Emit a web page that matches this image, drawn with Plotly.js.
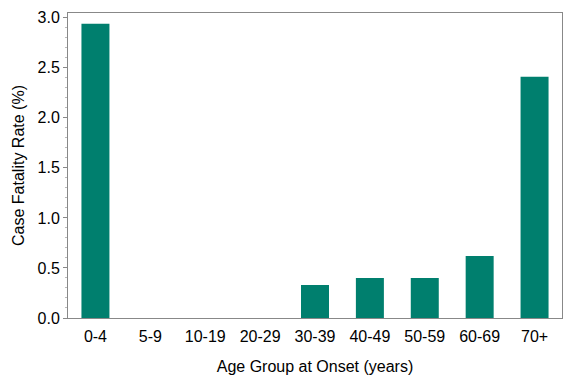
<!DOCTYPE html>
<html><head><meta charset="utf-8">
<script src="https://cdn.plot.ly/plotly-3.0.1.min.js"></script>
<style>html,body{margin:0;padding:0;background:#fff}#c{width:581px;height:379px}</style>
</head><body><div id="c"></div>
<script>
const categories = ["0-4","5-9","10-19","20-29","30-39","40-49","50-59","60-69","70+"];
const fatalityRate = [2.94, 0, 0, 0, 0.33, 0.40, 0.40, 0.62, 2.41];
const yTickVals = [0, 0.5, 1.0, 1.5, 2.0, 2.5, 3.0];
const yTickText = ["0.0","0.5","1.0","1.5","2.0","2.5","3.0"];

const font = {family: "Liberation Sans, Arial, sans-serif", size: 16, color: "#000"};
Plotly.newPlot("c", [{
  type: "bar", x: categories, y: fatalityRate,
  marker: {color: "#007F6E", line: {width: 0}},
  width: 0.51
}], {
  width: 581, height: 379,
  margin: {l: 68, r: 19, t: 13, b: 61},
  paper_bgcolor: "#fff", plot_bgcolor: "#fff",
  font: font,
  showlegend: false,
  xaxis: {
    type: "category", range: [-0.5, 8.5],
    showline: true, linecolor: "#888", linewidth: 1, mirror: true,
    ticks: "", showgrid: false, zeroline: false,
    tickfont: font, ticklabelstandoff: 4,
    title: {text: "Age Group at Onset (years)", font: font, standoff: 16}
  },
  yaxis: {
    range: [0, 3.047],
    tickvals: yTickVals, ticktext: yTickText,
    ticks: "outside", ticklen: 4, tickcolor: "#888",
    minor: {dtick: 0.1, ticks: "outside", ticklen: 2, tickcolor: "#bbb", showgrid: false},
    showline: true, linecolor: "#888", linewidth: 1, mirror: true,
    showgrid: false, zeroline: false,
    tickfont: font,
    title: {text: "Case Fatality Rate (%)", font: font, standoff: 8}
  }
}, {staticPlot: true});
</script></body></html>
